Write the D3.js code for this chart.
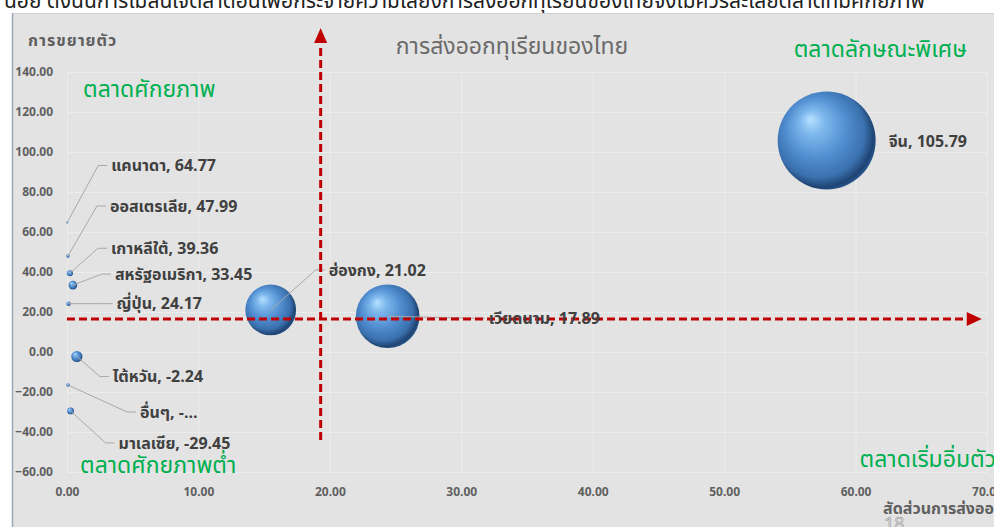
<!DOCTYPE html>
<html><head><meta charset="utf-8">
<script src="https://cdn.jsdelivr.net/npm/d3@7"></script>
<style>
body{margin:0;background:#fff;}
svg{display:block;font-family:Tahoma,"Noto Sans Thai","Noto Sans","DejaVu Sans",sans-serif;}
</style>
</head><body><svg id="c" width="994" height="527"></svg>
<script>
// ---------- data ----------
const countries   = ["แคนาดา","ออสเตรเลีย","เกาหลีใต้","สหรัฐอเมริกา","ญี่ปุ่น","ฮ่องกง","เวียดนาม","จีน","ไต้หวัน","อื่นๆ","มาเลเซีย"];
const exportShare = [0.02, 0.07, 0.22, 0.45, 0.12, 15.5, 24.4, 57.8, 0.75, 0.08, 0.27];
const growth      = [64.77, 47.99, 39.36, 33.45, 24.17, 21.02, 17.89, 105.79, -2.24, -16.5, -29.45];
const bubbleSize  = [0.02, 0.07, 0.22, 0.45, 0.12, 15.5, 24.4, 57.8, 0.75, 0.08, 0.27];
const labelTexts  = ["แคนาดา, 64.77","ออสเตรเลีย, 47.99","เกาหลีใต้, 39.36","สหรัฐอเมริกา, 33.45","ญี่ปุ่น, 24.17","ฮ่องกง, 21.02","เวียดนาม, 17.89","จีน, 105.79","ไต้หวัน, -2.24","อื่นๆ, -...","มาเลเซีย, -29.45"];
const xTicks = [0,10,20,30,40,50,60,70];
const yTicks = [-60,-40,-20,0,20,40,60,80,100,120,140];
const shareThreshold  = 19.3;   // vertical red divider
const growthThreshold = 16.5;   // horizontal red divider
const titleText  = "การส่งออกทุเรียนของไทย";
const yAxisTitle = "การขยายตัว";
const xAxisTitle = "สัดส่วนการส่งออก";
const quadrantNames = ["ตลาดศักยภาพ","ตลาดลักษณะพิเศษ","ตลาดศักยภาพต่ำ","ตลาดเริ่มอิ่มตัว"];

// ---------- layout (pixels) ----------
const labelOffsets = [[44,-57],[42,-50],[41,-25],[42,-11],[48,0],[58,-40],[101,2],[62,1],[36,20],[72,27],[48,32]];
const quadrantPos = [[83,97,"start"],[967,57,"end"],[80,473,"start"],[996,467,"end"]];

const svg = d3.select("#c");
const x = d3.scaleLinear().domain([0,70]).range([67,987]);
const y = d3.scaleLinear().domain([-60,140]).range([472,72]);
const r = d3.scaleSqrt().domain([0,57.8]).range([0,49]);

// top strip of cut-off document text
svg.append("text").attr("x",4).attr("y",8).attr("font-size",21).attr("fill","#222")
  .text("น้อย ดังนั้นการไม่สนใจตลาดอื่นเพื่อกระจายความเสี่ยงการส่งออกทุเรียนของไทยจึงไม่ควรละเลยตลาดที่มีศักยภาพ");

// chart background
svg.append("rect").attr("x",12).attr("y",13).attr("width",982).attr("height",514).attr("fill","#e3e3e3");
svg.append("line").attr("x1",12).attr("x2",994).attr("y1",13.5).attr("y2",13.5).attr("stroke","#d0d0d0");
svg.append("line").attr("x1",12.5).attr("x2",12.5).attr("y1",13).attr("y2",527).attr("stroke","#9aa6bb").attr("stroke-width",1.5);

const defs = svg.append("defs");
const g = defs.append("radialGradient").attr("id","ball").attr("cx","45%").attr("cy","45%").attr("r","58%").attr("fx","33%").attr("fy","28%");
[["0%","#b5e2ff"],["22%","#7db7ec"],["55%","#4f8ccf"],["80%","#3a70ad"],["93%","#1f4473"],["100%","#2a5a94"]]
  .forEach(([o,c])=>g.append("stop").attr("offset",o).attr("stop-color",c));

// gridlines
svg.append("g").selectAll("line").data(yTicks).join("line")
  .attr("x1",x(0)).attr("x2",x(70)).attr("y1",d=>y(d)+0.5).attr("y2",d=>y(d)+0.5)
  .attr("stroke","#ececec").attr("stroke-width",1);
svg.append("g").selectAll("line").data(xTicks).join("line")
  .attr("x1",d=>x(d)+0.5).attr("x2",d=>x(d)+0.5).attr("y1",y(140)).attr("y2",y(-60))
  .attr("stroke","#ececec").attr("stroke-width",1);

// axes
const yAxis = svg.append("g").attr("transform",`translate(${x(0)},0)`)
  .call(d3.axisLeft(y).tickValues(yTicks).tickSize(0).tickPadding(14).tickFormat(d3.format(".2f")));
const xAxis = svg.append("g").attr("transform",`translate(0,${y(-60)})`)
  .call(d3.axisBottom(x).tickValues(xTicks).tickSize(0).tickPadding(15).tickFormat(d3.format(".2f")));
[yAxis,xAxis].forEach(a=>{
  a.select(".domain").remove();
  a.selectAll("text").attr("font-family","Tahoma,'Noto Sans',sans-serif").attr("font-size",12).attr("font-weight","bold").attr("fill","#5f5f5f");
});

// titles
svg.append("text").attr("x",512).attr("y",54).attr("text-anchor","middle").attr("font-size",23).attr("fill","#6a6a6a").text(titleText);
svg.append("text").attr("x",28).attr("y",46).attr("font-size",16).attr("font-weight","bold").attr("letter-spacing",1).attr("fill","#5f5f5f").text(yAxisTitle);
svg.append("text").attr("x",883).attr("y",514).attr("font-size",16).attr("font-weight","bold").attr("fill","#5f5f5f").text(xAxisTitle);

// quadrant names
svg.append("g").selectAll("text").data(quadrantNames).join("text")
  .attr("x",(d,i)=>quadrantPos[i][0]).attr("y",(d,i)=>quadrantPos[i][1]).attr("text-anchor",(d,i)=>quadrantPos[i][2])
  .attr("font-size",23).attr("fill","#00b050").text(d=>d);

// points
const pts = countries.map((c,i)=>({c, x:x(exportShare[i]), y:y(growth[i]), r:Math.max(1,r(bubbleSize[i])), t:labelTexts[i], o:labelOffsets[i]}));

// bubbles
svg.append("g").selectAll("circle").data(pts).join("circle")
  .attr("cx",d=>d.x).attr("cy",d=>d.y).attr("r",d=>d.r).attr("fill","url(#ball)");

// leader lines
svg.append("g").selectAll("path").data(pts.filter(d=>d.c!=="จีน")).join("path")
  .attr("d",d=>{const lx=d.x+d.o[0], ly=d.y+d.o[1]; return `M${d.x},${d.y}L${lx-13},${ly}L${lx-4},${ly}`;})
  .attr("fill","none").attr("stroke","#a8a8a8").attr("stroke-width",1);

// red dividers
const red="#c00000";
svg.append("line").attr("x1",x(shareThreshold)).attr("x2",x(shareThreshold)).attr("y1",y(-44)).attr("y2",y(154))
  .attr("stroke",red).attr("stroke-width",3).attr("stroke-dasharray","8,4");
svg.append("path").attr("d",`M${x(shareThreshold)},${y(162)}l-6.5,15h13z`).attr("fill",red);
svg.append("line").attr("x1",x(0)).attr("x2",x(68.4)).attr("y1",y(growthThreshold)).attr("y2",y(growthThreshold))
  .attr("stroke",red).attr("stroke-width",3).attr("stroke-dasharray","8,4");
svg.append("path").attr("d",`M${x(69.6)},${y(growthThreshold)}l-15,-7v14z`).attr("fill",red);

// data labels
svg.append("g").selectAll("text").data(pts).join("text")
  .attr("x",d=>d.x+d.o[0]).attr("y",d=>d.y+d.o[1]).attr("dy","0.35em")
  .attr("font-size",16).attr("font-weight","bold").attr("fill","#404040").text(d=>d.t);

// faint page number
svg.append("text").attr("x",884).attr("y",530).attr("font-size",18).attr("fill","none").attr("stroke","#999").attr("stroke-width",0.6).text("18");
</script></body></html>
